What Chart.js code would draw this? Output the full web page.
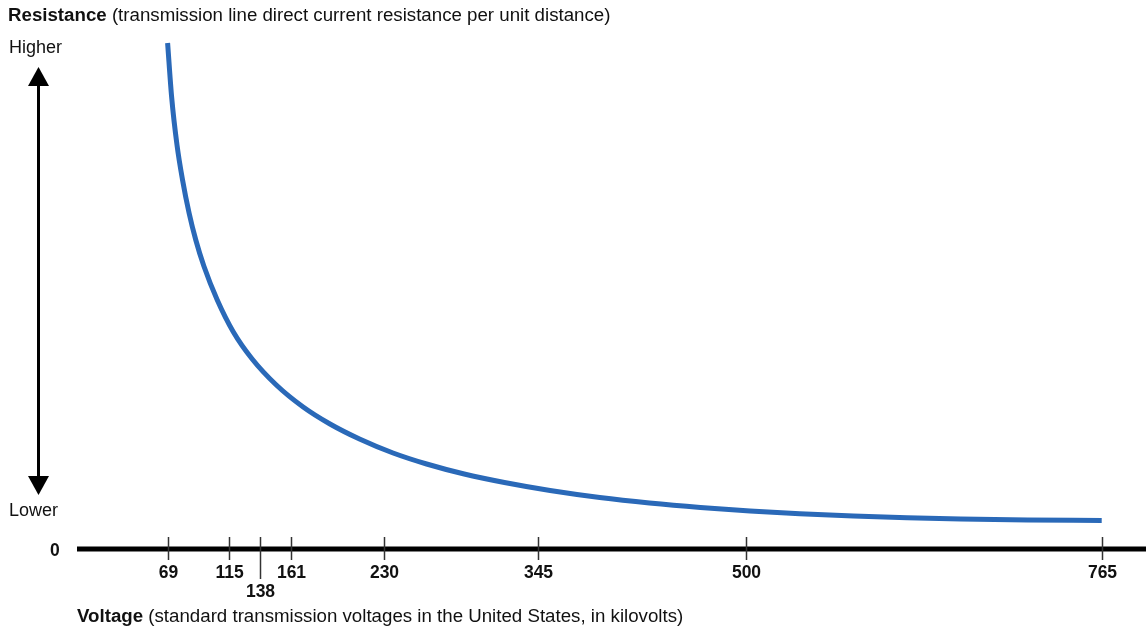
<!DOCTYPE html>
<html>
<head>
<meta charset="utf-8">
<title>Resistance vs Voltage</title>
<script src="https://cdn.jsdelivr.net/npm/chart.js@4.4.0/dist/chart.umd.min.js"></script>
<style>
    html, body { margin: 0; padding: 0; background: #ffffff; }
    #wrap { width: 1146px; height: 639px; position: relative; }
</style>
</head>
<body>
<div id="wrap"><canvas id="chart"></canvas></div>
<script>
// Curve (voltage in kV, resistance in relative units)
const voltageKv = [69, 72, 76, 80, 85, 90, 96, 106, 118, 132, 150, 170, 190, 212, 237, 262, 290, 320, 354, 391, 428, 466, 503, 540, 580, 620, 660, 710, 765];
const resistance = [506, 452, 404, 370, 336, 309, 283, 249, 217, 190, 164, 142, 125, 110, 96, 85, 75, 66.5, 58.5, 51.5, 46, 41.5, 38, 35.3, 33, 31.2, 30, 29.1, 28.6];

// Standard transmission voltages shown on the axis
const tickValues = [69, 115, 138, 161, 230, 345, 500, 765];
const tickLabels = ['69', '115', '138', '161', '230', '345', '500', '765'];
const loweredTicks = ['138']; // label sits on a second row

const FONT = '"Liberation Sans", Arial, Helvetica, sans-serif';

document.addEventListener('DOMContentLoaded', function() {
    const ctx = document.getElementById('chart').getContext('2d');

    // Draws the axis line, ticks, arrow and all the annotation text
    const annotations = {
        id: 'annotations',
        afterDatasetsDraw(chart) {
            const c = chart.ctx;
            const x = chart.scales.x;
            const y = chart.scales.y;
            const y0 = y.getPixelForValue(0);
            const left = x.getPixelForValue(0);

            c.save();

            // baseline axis
            c.strokeStyle = '#000';
            c.lineWidth = 5;
            c.beginPath();
            c.moveTo(left + 2, y0);
            c.lineTo(chart.width, y0);
            c.stroke();

            // tick marks + labels
            c.strokeStyle = '#333';
            c.lineWidth = 1.5;
            c.fillStyle = '#111';
            c.font = 'bold 17.5px ' + FONT;
            c.textAlign = 'center';
            c.textBaseline = 'alphabetic';
            tickValues.forEach(function(v, i) {
                const px = Math.round(x.getPixelForValue(v)) + 0.5;
                const lowered = loweredTicks.indexOf(tickLabels[i]) !== -1;
                c.beginPath();
                c.moveTo(px, y0 - 12);
                c.lineTo(px, lowered ? y0 + 30 : y0 + 11);
                c.stroke();
                c.fillText(tickLabels[i], px, lowered ? y0 + 48 : y0 + 29);
            });

            // zero label
            c.textAlign = 'left';
            c.fillText('0', 50, y0 + 7);

            // vertical double arrow
            const ax = 38.5;
            const topTip = 67, botTip = 495;
            c.strokeStyle = '#000';
            c.lineWidth = 3;
            c.beginPath();
            c.moveTo(ax, topTip + 12);
            c.lineTo(ax, botTip - 12);
            c.stroke();
            c.fillStyle = '#000';
            c.beginPath();
            c.moveTo(ax, topTip);
            c.lineTo(ax - 10.5, topTip + 19);
            c.lineTo(ax + 10.5, topTip + 19);
            c.closePath();
            c.fill();
            c.beginPath();
            c.moveTo(ax, botTip);
            c.lineTo(ax - 10.5, botTip - 19);
            c.lineTo(ax + 10.5, botTip - 19);
            c.closePath();
            c.fill();

            // Higher / Lower
            c.fillStyle = '#111';
            c.font = '18px ' + FONT;
            c.fillText('Higher', 9, 53);
            c.fillText('Lower', 9, 516);

            // titles: bold lead word + regular rest
            function title(bold, rest, tx, ty) {
                c.font = 'bold 18.7px ' + FONT;
                c.fillText(bold, tx, ty);
                const w = c.measureText(bold).width;
                c.font = '18.7px ' + FONT;
                c.fillText(rest, tx + w, ty);
            }
            title('Resistance', ' (transmission line direct current resistance per unit distance)', 8, 21);
            title('Voltage', ' (standard transmission voltages in the United States, in kilovolts)', 77, 622);

            c.restore();
        }
    };

    new Chart(ctx, {
        type: 'line',
        data: {
            datasets: [{
                label: 'Resistance',
                data: voltageKv.map(function(v, i) { return { x: v, y: resistance[i] }; }),
                borderColor: '#2a69b8',
                borderWidth: 5,
                borderCapStyle: 'butt',
                pointRadius: 0,
                fill: false,
                cubicInterpolationMode: 'monotone'
            }]
        },
        options: {
            responsive: true,
            maintainAspectRatio: false,
            animation: false,
            layout: {
                padding: { left: 75, right: 0, top: 40, bottom: 90 }
            },
            scales: {
                x: { type: 'linear', min: 0, max: 798, display: false },
                y: { min: 0, max: 509, display: false }
            },
            plugins: {
                legend: { display: false },
                tooltip: { enabled: false }
            }
        },
        plugins: [annotations]
    });
});
</script>
</body>
</html>
